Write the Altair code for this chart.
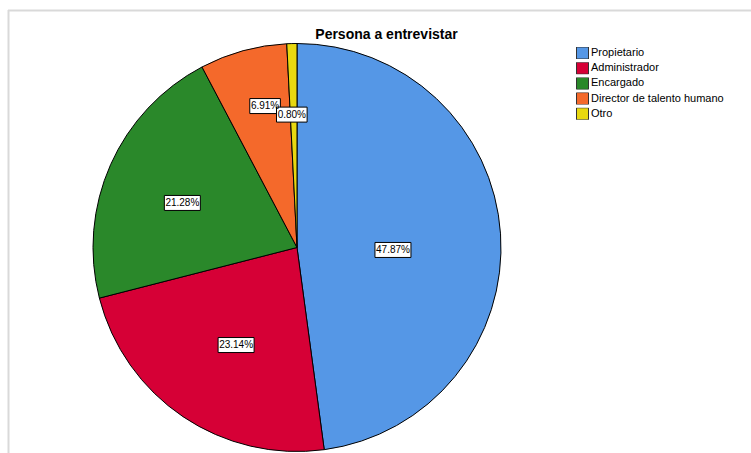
import altair as alt
import pandas as pd

# ---- data ----
categories = ["Propietario", "Administrador", "Encargado", "Director de talento humano", "Otro"]
percentages = [47.87, 23.14, 21.28, 6.91, 0.80]
labels = ["47.87%", "23.14%", "21.28%", "6.91%", "0.80%"]
colors = ["#5597E6", "#D60036", "#2A882A", "#F4692B", "#E8D810"]
title_text = "Persona a entrevistar"

# ---- layout (not data) ----
label_radius = [96, 115, 123, 145, 133]
label_angle_shift = [5.3, -2.0, -2.7, 2.6, -0.8]   # degrees
CX, CY, R = 297, 247.5, 204
FONT = "Liberation Sans"

df = pd.DataFrame({
    "category": categories,
    "pct": percentages,
    "label": labels,
    "order": list(range(len(categories))),
    "lr": label_radius,
    "da": label_angle_shift,
})

base = alt.Chart(df)

pie = base.mark_arc(outerRadius=R, stroke="black", strokeWidth=1).encode(
    theta=alt.Theta("pct:Q", stack=True),
    order=alt.Order("order:Q"),
    color=alt.Color(
        "category:N",
        sort=categories,
        scale=alt.Scale(domain=categories, range=colors),
        legend=alt.Legend(
            title=None, orient="none", legendX=576, legendY=47,
            symbolType="square", symbolSize=144, symbolStrokeColor="#333333",
            symbolStrokeWidth=1, symbolOpacity=1, labelFontSize=11, labelFont=FONT,
            labelColor="black", labelOffset=2, rowPadding=3.2, clipHeight=12, padding=0,
        ),
    ),
    x=alt.value(CX),
    y=alt.value(CY),
)

lab = base.transform_window(
    cum="sum(pct)", sort=[alt.SortField("order")], frame=[None, 0]
).transform_joinaggregate(
    total="sum(pct)"
).transform_calculate(
    mid="(datum.cum - datum.pct/2) / datum.total * 2 * PI + datum.da * PI / 180",
).transform_calculate(
    lx=f"{CX} + datum.lr * sin(datum.mid)",
    ly=f"{CY} - datum.lr * cos(datum.mid)",
    w="length(datum.label) * 5.4 + 3.6",
).transform_calculate(
    bx1="datum.lx - datum.w/2",
    bx2="datum.lx + datum.w/2",
    by1="datum.ly - 7.5",
    by2="datum.ly + 7.5",
)

boxes = lab.mark_rect(fill="white", stroke="black", strokeWidth=1).encode(
    x=alt.X("bx1:Q", scale=None, axis=None),
    x2="bx2:Q",
    y=alt.Y("by1:Q", scale=None, axis=None),
    y2="by2:Q",
)

texts = lab.mark_text(fontSize=10, font=FONT, color="black", align="center", baseline="middle").encode(
    x=alt.X("lx:Q", scale=None, axis=None),
    y=alt.Y("ly:Q", scale=None, axis=None),
    text="label:N",
)

tdf = pd.DataFrame({"t": [title_text]})
title = alt.Chart(tdf).mark_text(fontSize=14, fontWeight="bold", font=FONT, color="black",
                                  align="center", baseline="alphabetic").encode(
    x=alt.value(386.5), y=alt.value(39), text="t:N"
)

fdf = pd.DataFrame({"k": [0]})
frame_top = alt.Chart(fdf).mark_rule(color="#D9D9D9", strokeWidth=2).encode(
    x=alt.value(8), x2=alt.value(751), y=alt.value(10.5)
)
frame_left = alt.Chart(fdf).mark_rule(color="#D9D9D9", strokeWidth=2).encode(
    x=alt.value(8.5), y=alt.value(10), y2=alt.value(453)
)

chart = alt.layer(frame_top, frame_left, pie, boxes, texts, title).properties(
    width=751, height=453,
    autosize=alt.AutoSizeParams(type="none"),
    padding=0,
    background="white",
).configure_view(stroke=None)

chart.save("out.html", embed_options={"renderer": "svg", "actions": False})
